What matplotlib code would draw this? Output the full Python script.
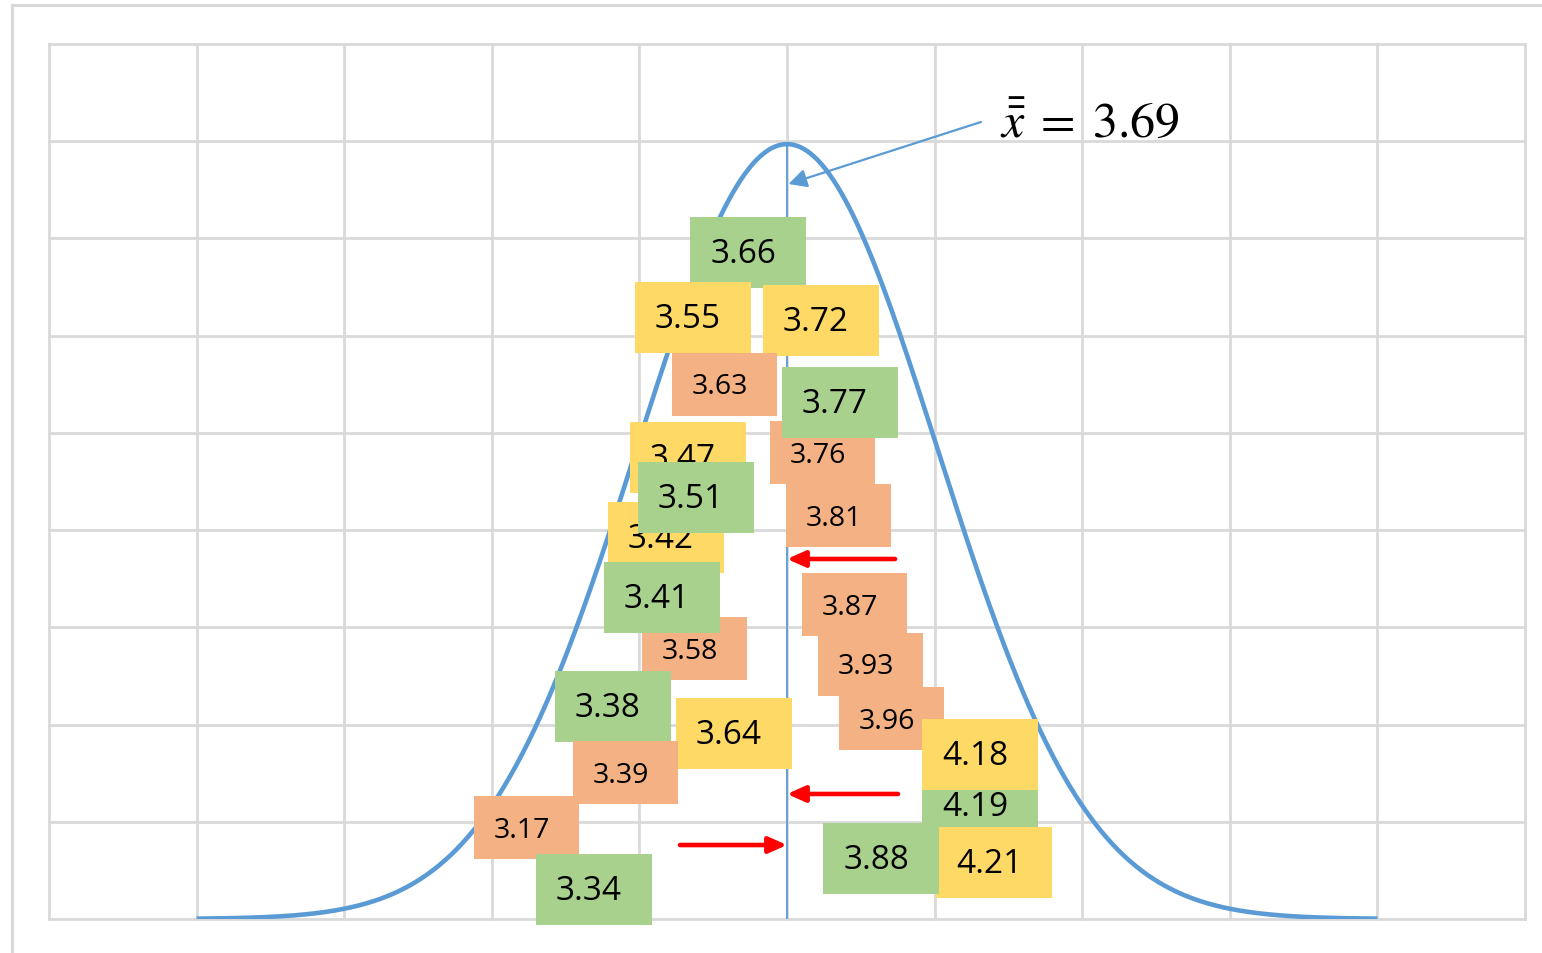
import numpy as np
import matplotlib
matplotlib.use("Agg")
import matplotlib.pyplot as plt
from matplotlib.patches import Rectangle, FancyArrowPatch
from matplotlib.lines import Line2D

plt.rcParams['mathtext.fontset'] = 'stix'

# ---- data ----
grand_mean = 3.69
values = ["3.66", "3.55", "3.72", "3.63", "3.76", "3.77", "3.81", "3.47", "3.42", "3.51",
          "3.58", "3.41", "3.87", "3.93", "3.96", "4.19", "4.18", "4.21", "3.88", "3.38",
          "3.64", "3.17", "3.39", "3.34"]
groups = ["G", "Y", "Y", "O", "O", "G", "O", "Y", "Y", "G",
          "O", "G", "O", "O", "O", "G", "Y", "Y", "G", "G",
          "Y", "O", "O", "G"]

# ---- layout (box centres in axis units: sigma across, grid rows up) ----
box_x = [-0.264, -0.637, 0.230, -0.423, 0.241, 0.356, 0.349, -0.671, -0.820, -0.617,
         -0.627, -0.847, 0.457, 0.566, 0.708, 1.308, 1.308, 1.402, 0.637, -1.179,
         -0.359, -1.765, -1.094, -1.308]
box_y = [6.856, 6.187, 6.156, 5.498, 4.798, 5.313, 4.150, 4.747, 3.924, 4.336,
         2.782, 3.307, 3.235, 2.618, 2.062, 1.167, 1.692, 0.581, 0.622, 2.186,
         1.908, 0.941, 1.502, 0.303]

colors = {"G": "#A9D18E", "Y": "#FFD966", "O": "#F4B183"}
sizes = {"G": (0.786, 0.730), "Y": (0.786, 0.730), "O": (0.711, 0.648)}
fsizes = {"G": 24, "Y": 24, "O": 20.5}
capoff = {"G": -6.8, "Y": -6.8, "O": -6.5}

peak = 7.97
sigma = 1.02

W, H = 1542, 954
fig = plt.figure(figsize=(W / 100, H / 100), dpi=100)
fig.patch.set_facecolor("white")

# outer frame (top and left visible)
fig.add_artist(Line2D([12 / W, 12 / W], [0, 1 - 6 / H], color="#D9D9D9", lw=2.2))
fig.add_artist(Line2D([12 / W, 1], [1 - 6 / H, 1 - 6 / H], color="#D9D9D9", lw=2.2))

ax = fig.add_axes([49 / W, 34 / H, 1476 / W, 875 / H])
ax.set_xlim(-5, 5)
ax.set_ylim(0, 9)
ax.axis("off")

grid_c = "#D9D9D9"
for gx in range(-5, 6):
    ax.plot([gx, gx], [0, 9], color=grid_c, lw=2.0, clip_on=False, zorder=1,
            solid_capstyle="projecting")
for gy in range(0, 10):
    ax.plot([-5, 5], [gy, gy], color=grid_c, lw=2.0, clip_on=False, zorder=1,
            solid_capstyle="projecting")

# normal curve
xs = np.linspace(-4, 4, 600)
ys = peak * np.exp(-xs ** 2 / (2 * sigma ** 2))
ax.plot(xs, ys, color="#5B9BD5", lw=3.3, zorder=2, solid_capstyle="butt")
# mean line
ax.plot([0, 0], [0, peak], color="#5B9BD5", lw=1.3, zorder=2)

# boxes
for i, (v, g) in enumerate(zip(values, groups)):
    w, h = sizes[g]
    z = 5 + i * 0.1
    ax.add_patch(Rectangle((box_x[i] - w / 2, box_y[i] - h / 2), w, h,
                           facecolor=colors[g], edgecolor="none", zorder=z, clip_on=False))
    ax.annotate(v, (box_x[i], box_y[i]), xytext=(-3.6, capoff[g]), textcoords="offset points",
                ha="center", va="baseline", fontsize=fsizes[g], family="Open Sans",
                color="black", zorder=z + 0.05, annotation_clip=False)

# red arrows
red_arrows = [((0.732, 3.703), (0.0, 3.703)),
              ((0.752, 1.286), (0.0, 1.286)),
              ((-0.725, 0.761), (0.0, 0.761))]
for (s, e) in red_arrows:
    ax.add_patch(FancyArrowPatch(s, e, arrowstyle="-|>,head_length=0.36,head_width=0.16",
                                 mutation_scale=30, color="#FF0000", lw=3.3,
                                 shrinkA=0, shrinkB=0, zorder=10))

# annotation arrow to mean
ax.add_patch(FancyArrowPatch((1.314, 8.198), (0.01, 7.56),
                             arrowstyle="-|>,head_length=0.55,head_width=0.28",
                             mutation_scale=20, color="#5B9BD5", lw=1.6,
                             shrinkA=0, shrinkB=0, zorder=10))
ax.text(1.44, 8.05, r"$\bar{\bar{x}}\;=\;%.2f$" % grand_mean, fontsize=36,
        ha="left", va="baseline", color="black", zorder=11)

fig.savefig("out.png", dpi=100, facecolor="white")
